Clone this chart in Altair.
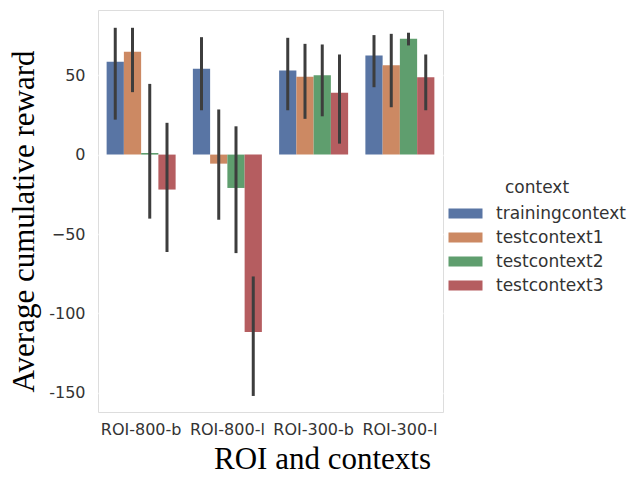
import altair as alt
import pandas as pd

rois = ["ROI-800-b", "ROI-800-l", "ROI-300-b", "ROI-300-l"]
contexts = ["trainingcontext", "testcontext1", "testcontext2", "testcontext3"]
colors = ["#5975a4", "#cc8963", "#5f9e6e", "#b55d60"]

means = {
    "trainingcontext": [58.4, 54.0, 52.9, 62.4],
    "testcontext1": [64.7, -5.7, 49.0, 56.3],
    "testcontext2": [1.0, -21.0, 50.0, 72.9],
    "testcontext3": [-22.0, -111.7, 38.9, 48.7],
}
lows = {
    "trainingcontext": [22.0, 27.9, 27.9, 42.4],
    "testcontext1": [39.3, -41.0, 22.5, 29.8],
    "testcontext2": [-40.3, -62.0, 24.1, 68.7],
    "testcontext3": [-61.3, -151.9, 6.9, 27.9],
}
highs = {
    "trainingcontext": [79.8, 73.9, 73.5, 75.2],
    "testcontext1": [79.8, 28.4, 69.7, 76.0],
    "testcontext2": [44.5, 17.8, 69.3, 76.7],
    "testcontext3": [20.0, -76.7, 63.0, 63.0],
}
y_ticks = [50, 0, -50, -100, -150]

rows = []
for c in contexts:
    for i, r in enumerate(rois):
        rows.append({"roi": r, "context": c, "mean": means[c][i],
                     "lo": lows[c][i], "hi": highs[c][i]})
df = pd.DataFrame(rows)

xenc = alt.X("roi:N", sort=rois,
             scale=alt.Scale(paddingInner=0.2, paddingOuter=0.1),
             axis=alt.Axis(title="ROI and contexts", labelAngle=0,
                           labelFont="DejaVu Sans", labelFontSize=16,
                           labelColor="#333333", labelPadding=9,
                           domain=False, ticks=False, grid=False,
                           titleFont="Liberation Serif", titleFontSize=31,
                           titleFontWeight="normal", titleColor="#000000",
                           titleX=224, titleY=56, titleBaseline="alphabetic",
                           titleAlign="center"))
xoff = alt.XOffset("context:N", sort=contexts,
                   scale=alt.Scale(paddingInner=0, paddingOuter=0))
yscale = alt.Scale(domain=[-162, 91], nice=False, zero=False)

bars = alt.Chart(df).mark_bar(opacity=1).encode(
    x=xenc,
    xOffset=xoff,
    y=alt.Y("mean:Q", scale=yscale,
            axis=alt.Axis(title="Average cumulative reward", values=y_ticks,
                          labelExpr="datum.value == -50 ? '\u221250' : '' + datum.value",
                          labelFont="DejaVu Sans", labelFontSize=16,
                          labelColor="#333333", labelPadding=13,
                          domain=False, ticks=False, grid=True,
                          gridColor="#ffffff", gridWidth=1.5,
                          titleFont="Liberation Serif", titleFontSize=31,
                          titleFontWeight="normal", titleColor="#000000",
                          titleAngle=-90, titleX=-65, titleY=211,
                          titleBaseline="alphabetic", titleAlign="center")),
    y2=alt.datum(0),
    color=alt.Color("context:N", sort=contexts,
                    scale=alt.Scale(domain=contexts, range=colors),
                    legend=alt.Legend(title="context", orient="none",
                                      legendX=351, legendY=170,
                                      titleFont="DejaVu Sans", titleFontSize=17,
                                      titleFontWeight="normal", titleColor="#333333",
                                      titleAnchor="middle", titlePadding=8,
                                      labelFont="DejaVu Sans", labelFontSize=17,
                                      labelColor="#333333",
                                      symbolType="M-2,-0.6L2,-0.6L2,0.6L-2,0.6Z",
                                      symbolSize=289, symbolStrokeWidth=0,
                                      symbolOpacity=1,
                                      symbolOffset=8, labelOffset=22,
                                      rowPadding=6)),
)

errs = alt.Chart(df).mark_rule(color="#3d3d3d", strokeWidth=3).encode(
    x=alt.X("roi:N", sort=rois),
    xOffset=alt.XOffset("context:N", sort=contexts),
    y=alt.Y("lo:Q", scale=yscale),
    y2="hi:Q",
)

chart = alt.layer(bars, errs).properties(
    width=345, height=402,
    autosize=alt.AutoSizeParams(type="none"),
    padding={"left": 98, "top": 10, "right": 184, "bottom": 67},
).configure_view(fill="#EAEAF2", strokeWidth=0, stroke="transparent").configure(background="#ffffff")

chart.save("out.html", embed_options={"renderer": "svg", "actions": False})
